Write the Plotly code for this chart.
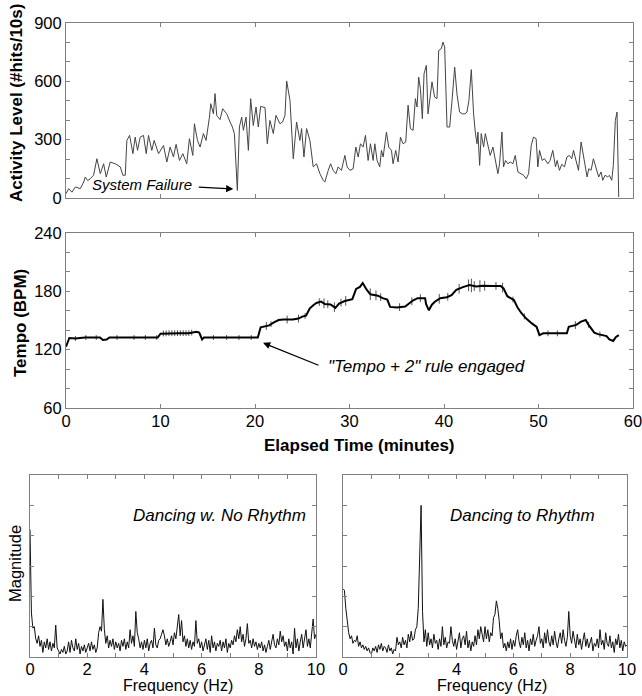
import plotly.graph_objects as go
import numpy as np

# ---------------- data ----------------
act_time = [0.0, 0.28, 0.63, 0.99, 1.51, 1.87, 2.04, 2.29, 2.57, 2.92, 3.27, 3.63, 3.98, 4.26, 4.68, 5.21,
            5.74, 6.02, 6.27, 6.44, 6.73, 7.08, 7.32, 7.57, 7.85, 8.20, 8.49, 8.73, 9.08, 9.33, 9.79,
            10.32, 10.67, 11.02, 11.37, 11.65, 12.01, 12.36, 12.78, 13.06, 13.42, 13.59, 13.91, 14.19,
            14.54, 14.82, 15.18, 15.32, 15.60, 15.77, 15.95, 16.30, 16.58, 17.01, 17.36, 17.61, 17.82,
            17.96, 18.13, 18.35, 18.59, 18.77, 19.05, 19.30, 19.54, 19.82, 20.11, 20.35, 20.60, 21.06,
            21.30, 21.58, 21.94, 22.22, 22.64, 22.92, 23.17, 23.35, 23.70, 24.05, 24.40, 24.75, 24.93,
            25.18, 25.46, 25.81, 26.16, 26.51, 26.87, 27.22, 27.39, 27.75, 28.00, 28.27, 28.56, 28.80,
            29.15, 29.51, 29.75, 30.04, 30.39, 30.67, 30.92, 31.16, 31.44, 31.69, 31.97, 32.22, 32.50,
            32.68, 32.92, 33.20, 33.38, 33.56, 33.91, 34.15, 34.44, 34.61, 34.89, 35.14, 35.39, 35.67,
            35.95, 36.20, 36.44, 36.73, 36.97, 37.15, 37.32, 37.50, 37.71, 37.89, 38.13, 38.31, 38.49,
            38.73, 39.01, 39.26, 39.44, 39.72, 39.89, 40.07, 40.32, 40.60, 40.88, 41.13, 41.37, 41.65,
            41.94, 42.22, 42.43, 42.64, 42.89, 43.13, 43.31, 43.49, 43.59, 43.77, 43.94, 44.19, 44.37,
            44.65, 44.89, 45.18, 45.42, 45.70, 45.88, 46.13, 46.30, 46.51, 46.76, 47.01, 47.29, 47.54,
            47.82, 48.17, 48.42, 48.70, 48.95, 49.23, 49.47, 49.75, 49.93, 50.11, 50.39, 50.63, 50.99,
            51.23, 51.51, 51.80, 51.97, 52.22, 52.46, 52.75, 53.00, 53.27, 53.52, 53.70, 53.98, 54.23,
            54.51, 54.75, 54.93, 55.14, 55.32, 55.56, 55.81, 56.09, 56.37, 56.62, 56.80, 57.04, 57.32,
            57.50, 57.75, 57.92, 58.13, 58.31, 58.49]
act_value = [22, 48, 30, 57, 48, 82, 108, 90, 99, 117, 202, 125, 176, 108, 185, 176,
             160, 117, 117, 296, 322, 228, 313, 245, 313, 322, 228, 322, 245, 296, 228,
             270, 185, 262, 211, 276, 193, 228, 176, 305, 219, 382, 296, 262,
             331, 296, 416, 485, 433, 537, 425, 403, 459, 433, 391, 365, 331,
             160, 39, 365, 416, 348, 416, 245, 511, 373, 468, 365, 471, 465,
             279, 399, 331, 425, 382, 391, 425, 602, 502, 202, 391, 296, 357,
             211, 357, 296, 160, 176, 125, 91, 82, 142, 176, 142, 125, 160,
             142, 219, 160, 142, 151, 262, 211, 279, 262, 322, 193, 279, 193,
             279, 193, 160, 245, 211, 339, 262, 245, 176, 245, 185, 313, 279,
             288, 477, 357, 348, 511, 468, 622, 562, 408, 639, 682, 433, 519,
             597, 519, 511, 759, 768, 802, 776, 365, 365, 519, 673, 536, 442,
             433, 433, 442, 502, 660, 433, 339, 279, 339, 168, 331, 262, 331,
             270, 219, 262, 193, 125, 176, 339, 160, 193, 176, 185, 176, 219,
             134, 125, 117, 99, 125, 270, 313, 305, 160, 245, 193, 202, 176,
             193, 245, 160, 193, 142, 173, 160, 211, 219, 202, 245, 193, 142,
             288, 211, 168, 108, 151, 142, 202, 151, 108, 134, 91, 117, 108,
             117, 91, 168, 399, 442, 5]

tempo_time = [0.0, 0.2, 0.35, 1.0, 2.0, 3.0, 3.6, 3.9, 4.3, 4.6, 6.0, 8.0, 9.7, 10.0, 11.0, 12.0, 13.0,
              13.8, 14.1, 14.4, 14.6, 16.0, 18.0, 20.3, 20.6, 21.0, 21.5, 22.0, 22.5, 23.0, 24.0, 24.6,
              25.0, 25.4, 25.8, 26.2, 26.5, 27.0, 27.4, 28.0, 28.5, 28.9, 29.5, 30.3, 30.7, 31.1, 31.4,
              31.8, 32.2, 33.0, 33.5, 34.0, 34.3, 35.0, 35.9, 36.1, 36.7, 37.2, 38.0, 38.1, 38.4, 38.7,
              39.0, 39.6, 40.3, 40.8, 41.3, 42.0, 42.7, 43.4, 44.1, 45.2, 46.0, 46.3, 46.7, 47.4, 47.8,
              48.2, 48.7, 49.3, 49.8, 50.1, 50.5, 52.0, 53.0, 53.2, 54.0, 54.5, 55.0, 55.3, 55.6, 55.9,
              56.3, 56.8, 57.2, 57.5, 57.9, 58.2, 58.5]
tempo_value = [123, 128, 132, 131.5, 132.5, 132.5, 132.5, 130, 130.5, 132.5, 132.5, 132.5, 132.5, 136.5,
               137, 137, 137, 138.5, 137.5, 130.5, 132.5, 132.5, 132.5, 132.5, 143, 144, 145, 148, 150.5,
               151, 151, 152, 154, 155, 162.5, 166, 168, 169.5, 167, 166.5, 163, 167.5, 170, 172, 182.5,
               184.5, 188.5, 182, 177, 175.5, 173, 171.5, 164, 163.5, 164.3, 166, 170.5, 173, 173, 167,
               160.5, 166, 169, 173, 174, 176, 181.5, 184.3, 186.5, 185, 185.8, 185.6, 185.6, 183, 175,
               171, 163, 157.5, 152, 147, 143.5, 135, 136.8, 136.8, 136.8, 143.5, 145.5, 148.8, 150.5,
               145.5, 142, 137.5, 136, 135, 134, 130.5, 129, 133, 135]

# short tempo fluctuations (thin vertical ticks): time (min) and half-height (BPM)
spike_time = [1.0, 2.1, 3.2, 5.4, 7.2, 8.4, 9.6,
              10.3, 10.6, 10.9, 11.2, 11.5, 11.8, 12.1, 12.4, 12.7, 13.0, 13.3,
              15.6, 17.0, 18.3, 19.6,
              21.2, 21.7, 23.4, 24.6, 25.3, 26.8, 27.3, 27.7, 28.4, 29.1, 29.6,
              32.2, 32.8, 33.3, 35.3, 36.6, 37.5,
              39.5, 40.4, 41.6, 42.6, 42.9, 43.2, 43.8, 44.3, 45.5, 46.2, 47.3, 48.5,
              51.0, 52.0, 53.9, 55.3, 56.5]
spike_amp = [2.5, 2.5, 2.5, 2.5, 2.5, 2.5, 2.5,
             3, 3, 3, 3, 3, 3, 3, 3, 3, 3, 3,
             2.5, 2.5, 2.5, 2.5,
             4, 3, 4, 4, 3, 4, 5, 4, 5, 4, 5,
             6, 5, 4, 4, 4, 4,
             5, 4, 5, 6, 7, 5, 6, 5, 4, 5, 3, 3,
             3, 3, 4, 3, 3]

freq_step = 0.05  # Hz between spectrum samples (0 .. 10 Hz)
spec_no_rhythm = [4.2, 1.45, 0.95, 1.0, 0.6, 0.45, 0.7, 0.35, 0.55, 0.15, 0.5, 0.3, 0.6, 0.25, 0.5, 0.2, 0.45, 0.3, 1.05, 0.3,
                  0.2, 0.1, 0.25, 0.15, 0.35, 0.1, 0.2, 0.5, 0.15, 0.55, 0.3, 0.2, 0.6, 0.25, 0.45, 0.1, 0.35, 0.2, 0.4, 0.15,
                  0.3, 0.45, 0.2, 0.5, 0.25, 0.4, 0.15, 0.3, 0.8, 1.0, 0.85, 1.9, 0.9, 0.45, 0.7, 0.3, 0.55, 0.35, 0.6, 0.25,
                  0.5, 0.3, 0.45, 0.2, 0.55, 0.35, 0.6, 0.25, 0.5, 0.3, 0.9, 0.45, 0.7, 0.35, 1.5, 0.8, 0.6, 0.3, 0.5, 0.25,
                  0.55, 0.3, 0.6, 0.2, 0.45, 0.55, 0.3, 0.95, 0.4, 0.3, 0.55, 0.6, 0.75, 0.9, 0.7, 0.4, 0.6, 0.35, 0.5, 0.7,
                  0.4, 0.8, 0.6, 1.1, 1.4, 0.7, 1.2, 0.5, 0.7, 0.35, 0.6, 0.3, 0.55, 0.25, 0.5, 0.35, 1.2, 0.45, 0.6, 0.3,
                  0.5, 0.2, 0.45, 0.6, 0.25, 0.55, 0.15, 0.7, 0.3, 0.5, 0.2, 0.45, 0.35, 0.55, 0.2, 0.5, 0.3, 0.6, 0.15, 0.45,
                  0.3, 0.55, 0.4, 0.7, 0.5, 0.9, 0.6, 1.0, 0.5, 0.75, 0.35, 0.6, 1.1, 0.45, 0.55, 0.3, 0.6, 0.35, 0.5, 0.25,
                  0.45, 0.3, 0.5, 0.2, 0.4, 0.15, 0.35, 0.55, 0.25, 0.5, 0.75, 0.4, 0.3, 0.6, 0.4, 0.85, 0.5, 0.7, 0.35, 0.5,
                  0.2, 0.6, 0.3, 0.5, 0.1, 0.95, 0.3, 0.6, 0.2, 0.5, 0.75, 0.3, 0.55, 0.9, 0.35, 0.6, 0.3, 0.9, 1.25, 0.6,
                  0.75]
spec_rhythm = [2.25, 2.2, 1.6, 1.1, 0.8, 0.6, 0.7, 0.45, 0.55, 0.5, 0.7, 0.35, 0.5, 0.3, 0.4, 0.25, 0.35, 0.2, 0.3, 0.15,
               0.1, 0.3, 0.2, 0.35, 0.15, 0.4, 0.25, 0.45, 0.2, 0.35, 0.3, 0.15, 0.4, 0.2, 0.3, 0.1, 0.25, 0.2, 0.65, 0.4,
               0.5, 0.3, 0.65, 0.4, 0.55, 0.3, 0.75, 0.5, 0.85, 0.55, 0.6, 0.9, 1.0, 1.6, 3.5, 5.0, 1.5, 0.5, 0.9, 0.35,
               0.8, 0.4, 0.6, 0.3, 0.75, 0.45, 0.55, 0.25, 0.6, 0.35, 1.0, 0.4, 0.65, 0.3, 0.5, 0.45, 1.0, 0.55, 0.35, 0.6,
               0.25, 0.55, 0.8, 0.3, 0.6, 0.7, 0.4, 0.85, 0.3, 0.55, 0.2, 0.5, 0.35, 0.7, 0.4, 0.9, 0.6, 1.0, 0.75, 0.5,
               1.0, 0.6, 0.9, 0.5, 0.8, 0.7, 1.3, 1.4, 1.85, 1.6, 1.2, 0.6, 0.8, 0.3, 0.45, 0.2, 0.5, 0.3, 0.6, 0.25,
               0.55, 0.35, 0.7, 0.9, 0.5, 0.3, 0.65, 0.4, 0.8, 0.3, 0.55, 0.2, 0.6, 0.4, 0.75, 0.35, 0.55, 0.7, 1.0, 0.45,
               0.6, 0.3, 0.8, 0.45, 0.9, 0.5, 0.35, 0.7, 0.4, 0.85, 0.5, 0.3, 0.6, 0.8, 0.45, 0.9, 0.55, 0.35, 0.65, 1.5,
               0.7, 0.45, 0.85, 0.5, 0.3, 0.75, 0.4, 0.6, 0.25, 0.55, 0.8, 0.35, 0.6, 0.3, 0.5, 0.65, 0.2, 0.45, 0.35, 0.6,
               0.3, 0.9, 0.4, 0.55, 0.25, 0.8, 0.45, 0.35, 0.7, 0.3, 0.5, 0.15, 0.6, 0.4, 0.75, 0.3, 0.55, 0.2, 0.5, 0.35,
               0.4]

freq_left = np.arange(len(spec_no_rhythm)) * freq_step
freq_right = np.arange(len(spec_rhythm)) * freq_step

# spike segments built from the tempo data
spike_base = np.interp(spike_time, tempo_time, tempo_value)
spk_x, spk_y = [], []
for t, b, a in zip(spike_time, spike_base, spike_amp):
    spk_x += [t, t, None]
    spk_y += [b - a, b + a, None]

# ---------------- figure ----------------
W, H = 642, 696
FONT = "Liberation Sans, Arial, Helvetica, sans-serif"
AX = "#808080"


def px_x(p):
    return p / W


def px_y(p):
    return 1 - p / H


fig = go.Figure()
fig.add_trace(go.Scatter(x=act_time, y=act_value, mode="lines", line=dict(color="#444444", width=1),
                         xaxis="x", yaxis="y", showlegend=False))
fig.add_trace(go.Scatter(x=spk_x, y=spk_y, mode="lines", line=dict(color="#555555", width=1),
                         xaxis="x2", yaxis="y2", showlegend=False, connectgaps=False))
fig.add_trace(go.Scatter(x=tempo_time, y=tempo_value, mode="lines", line=dict(color="#000000", width=2),
                         xaxis="x2", yaxis="y2", showlegend=False))
fig.add_trace(go.Scatter(x=freq_left, y=spec_no_rhythm, mode="lines", line=dict(color="#111111", width=1),
                         xaxis="x3", yaxis="y3", showlegend=False))
fig.add_trace(go.Scatter(x=freq_right, y=spec_rhythm, mode="lines", line=dict(color="#111111", width=1),
                         xaxis="x4", yaxis="y4", showlegend=False))

common = dict(showline=True, linecolor=AX, linewidth=1, mirror="ticks", ticks="inside",
              tickcolor=AX, ticklen=4, showgrid=False, zeroline=False, automargin=False,
              ticklabeloverflow="allow",
              tickfont=dict(family=FONT, size=16.5, color="#000000"))
minor = lambda d: dict(dtick=d, ticks="inside", ticklen=4, tickcolor=AX, showgrid=False)

xdom_top = [px_x(66), px_x(633)]
fig.update_layout(
    width=W, height=H, autosize=False,
    margin=dict(l=0, r=0, t=0, b=0, pad=0),
    paper_bgcolor="white", plot_bgcolor="white",
    showlegend=False,
    xaxis=dict(domain=xdom_top, anchor="y", range=[0, 60], dtick=10, tick0=0, showticklabels=False, **common),
    yaxis=dict(domain=[px_y(198), px_y(23)], anchor="x", range=[0, 900], dtick=300, tick0=0,
               minor=minor(100), **common),
    xaxis2=dict(domain=xdom_top, anchor="y2", range=[0, 60], dtick=10, tick0=0,
                ticklabelstandoff=-2, **common),
    yaxis2=dict(domain=[px_y(408), px_y(233)], anchor="x2", range=[60, 240], dtick=60, tick0=60,
                minor=minor(20), **common),
    xaxis3=dict(domain=[px_x(30), px_x(316)], anchor="y3", range=[0, 10], dtick=2, tick0=0,
                minor=minor(1), ticklabelstandoff=-3, **common),
    yaxis3=dict(domain=[px_y(657), px_y(475)], anchor="x3", range=[0, 6], dtick=1, tick0=0,
                showticklabels=False, **common),
    xaxis4=dict(domain=[px_x(343), px_x(627)], anchor="y4", range=[0, 10], dtick=2, tick0=0,
                minor=minor(1), ticklabelstandoff=-3, **common),
    yaxis4=dict(domain=[px_y(657), px_y(475)], anchor="x4", range=[0, 6], dtick=1, tick0=0,
                showticklabels=False, **common),
)


def paper_text(text, xp, yp, size=17, angle=0, xanchor="center"):
    fig.add_annotation(text=text, x=px_x(xp), y=px_y(yp), xref="paper", yref="paper",
                       showarrow=False, textangle=angle, xanchor=xanchor, yanchor="middle",
                       font=dict(family=FONT, size=size, color="#000000"))


paper_text("<b>Activity Level (#hits/10s)</b>", 17, 103, angle=-90)
paper_text("<b>Tempo (BPM)</b>", 20, 323, angle=-90)
paper_text("<b>Elapsed Time (minutes)</b>", 360, 445)
paper_text("Magnitude", 15, 564, size=16.5, angle=-90)
paper_text("Frequency (Hz)", 178, 685, size=16)
paper_text("Frequency (Hz)", 492, 685, size=16)
paper_text("<i>System Failure</i>", 142, 185, size=15)
paper_text("<i>\"Tempo + 2\" rule engaged</i>", 426, 367)
paper_text("<i>Dancing w. No Rhythm</i>", 308, 515, xanchor="right")
paper_text("<i>Dancing to Rhythm</i>", 597, 515, xanchor="right")

# arrows
fig.add_annotation(text="", x=17.7, y=46, xref="x", yref="y", ax=-36, ay=-2,
                   showarrow=True, arrowhead=2, arrowsize=1.1, arrowwidth=1.3, arrowcolor="#000000")
fig.add_annotation(text="", x=20.85, y=127, xref="x2", yref="y2", ax=57, ay=23,
                   showarrow=True, arrowhead=2, arrowsize=1.1, arrowwidth=1.3, arrowcolor="#000000")

fig.write_html("out.html",
               config={"displayModeBar": False},
               post_script="document.body.style.margin='0';document.body.style.padding='0';"
                           "document.documentElement.style.overflow='hidden';")
